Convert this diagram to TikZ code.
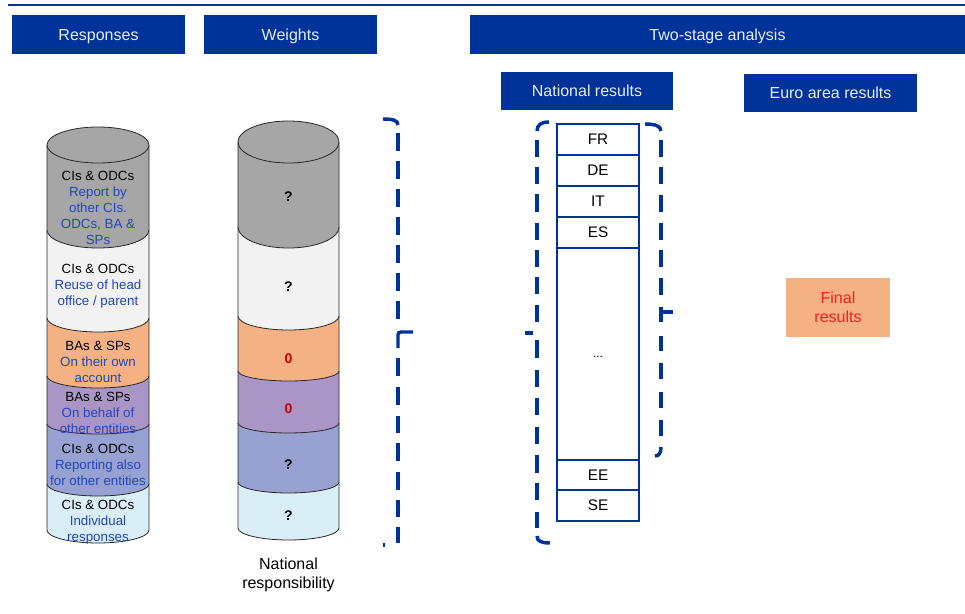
\documentclass[tikz,border=0pt]{standalone}
\usepackage{fontspec}
\setmainfont{Liberation Sans}
\definecolor{ecb}{RGB}{0,51,153}
\definecolor{hdrtxt}{RGB}{230,236,248}
\definecolor{cgray}{RGB}{166,166,166}
\definecolor{cwhite}{RGB}{242,242,242}
\definecolor{corange}{RGB}{244,177,131}
\definecolor{cpurple}{RGB}{170,150,198}
\definecolor{cblue}{RGB}{151,162,210}
\definecolor{clight}{RGB}{218,238,248}
\definecolor{cylline}{RGB}{40,40,40}
\definecolor{txtblue}{RGB}{35,70,185}
\definecolor{zred}{RGB}{200,0,0}
\definecolor{fred}{RGB}{250,30,30}
\newcommand\bluetx[1]{\textcolor{txtblue}{#1}}
\begin{document}
\begin{tikzpicture}[x=0.75pt,y=-0.75pt,
  hdr/.style={fill=ecb, text=hdrtxt, inner sep=0pt, font=\fontsize{12}{14}\selectfont, minimum width=129.75pt, minimum height=29.25pt, text height=8.6pt, text depth=0pt},
  nbox/.style={draw=ecb, line width=1.2pt, fill=white, minimum width=61.5pt, inner sep=0pt, font=\fontsize{11.5}{13}\selectfont},
  cyl/.style={draw=cylline, line width=0.6pt},
  ctext/.style={align=center, font=\fontsize{10}{12}\selectfont, inner sep=0pt},
  wq/.style={font=\fontsize{10.5}{12}\selectfont\bfseries, inner sep=0pt},
  brsolid/.style={draw=ecb, line width=2.6pt}
]
\useasboundingbox (0,0) rectangle (965,614);
% top rule
\coordinate (ruleL) at (8,5);
\coordinate (ruleR) at (965,5);
\draw[ecb, line width=1.5pt] (ruleL) -- (ruleR);
% headers
\node[hdr] (hresp) at (98.5,34.5) {Responses};
\node[hdr] (hweig) at (290.5,34.5) {Weights};
\node[hdr, minimum width=371.25pt] (htwo) at (717.5,34.5) {Two-stage analysis};
\node[hdr, minimum width=129pt, minimum height=28.5pt] (hnat) at (587,91) {National results};
\node[hdr, minimum height=28.5pt] (heuro) at (830.5,93) {Euro area results};
% left cylinder
\foreach \yt/\yb/\s/\c in {484/530/13/clight, 424/484/12/cblue, 376/424/10/cpurple, 318/376/12/corange, 230/318/14/cwhite, 145/230/18/cgray}{
  \filldraw[cyl, fill=\c] (47,\yt) -- (47,\yb) arc[start angle=180, end angle=0, x radius=51, y radius=\s] -- (149,\yt);
}
\filldraw[cyl, fill=cgray] (98,145) ellipse[x radius=51, y radius=18];
\node[ctext] (l1) at (98,208) {CIs \& ODCs\\\bluetx{Report by}\\\bluetx{other CIs.}\\\bluetx{ODCs, BA \&}\\\bluetx{SPs}};
\node[ctext] (l2) at (98,286) {CIs \& ODCs\\\bluetx{Reuse of head}\\\bluetx{office / parent}};
\node[ctext] (l3) at (98,361.5) {BAs \& SPs\\\bluetx{On their own}\\\bluetx{account}};
\node[ctext] (l4) at (98,413) {BAs \& SPs\\\bluetx{On behalf of}\\\bluetx{other entities}};
\node[ctext] (l5) at (98,465) {CIs \& ODCs\\\bluetx{Reporting also}\\\bluetx{for other entities}};
\node[ctext] (l6) at (98,522) {CIs \& ODCs\\\bluetx{Individual}\\\bluetx{responses}};
% middle cylinder
\foreach \yt/\yb/\s/\c in {482/528/12/clight, 423/482/11/cblue, 371/423/10/cpurple, 316/371/10/corange, 227/316/14/cwhite, 142/227/21/cgray}{
  \filldraw[cyl, fill=\c] (238,\yt) -- (238,\yb) arc[start angle=180, end angle=0, x radius=50.5, y radius=\s] -- (339,\yt);
}
\filldraw[cyl, fill=cgray] (288.5,142) ellipse[x radius=50.5, y radius=21];
\node[wq] (w1) at (288.5,197) {?};
\node[wq] (w2) at (288.5,287) {?};
\node[wq, text=zred] (w3) at (288.5,359) {0};
\node[wq, text=zred] (w4) at (288.5,409) {0};
\node[wq] (w5) at (288.5,465) {?};
\node[wq] (w6) at (288.5,516) {?};
\node[align=center, inner sep=0pt, font=\fontsize{12}{14.25}\selectfont] (natresp) at (288.5,574.5) {National\\responsibility};
% national results column
\node[nbox, minimum height=23.25pt] (fr) at (598,139.5) {FR};
\node[nbox, minimum height=23.25pt] (de) at (598,170.5) {DE};
\node[nbox, minimum height=23.25pt] (it) at (598,201.5) {IT};
\node[nbox, minimum height=23.25pt] (es) at (598,232.5) {ES};
\node[nbox, minimum height=159pt] (dots) at (598,354) {};
\node[inner sep=0pt, font=\fontsize{9}{10}\selectfont] (dotstxt) at (598,357) {...};
\node[nbox, minimum height=22.5pt] (ee) at (598,475) {EE};
\node[nbox, minimum height=23.25pt] (se) at (598,505.5) {SE};
% brace 1 (points right)
\coordinate (b1a) at (383,119);
\coordinate (b1t) at (413,332);
\coordinate (b1b) at (383,545);
\draw[brsolid] (b1a) .. controls (392,119) and (398,120) .. (398,125);
\foreach \a/\b in {133/151, 161/179, 189/207, 217/235, 245/263, 273/291, 301/319, 358/376, 387/405, 416/433, 443/461, 472/490, 500/517, 527/543}
  \draw[brsolid] (398,\a) -- (398,\b);
\draw[brsolid] (b1t) -- (401,332) .. controls (399,332) and (398,333) .. (398,335) -- (398,348);
\draw[brsolid] (b1b) -- (385,545);
% brace 2 (points left)
\coordinate (b2a) at (549,122);
\coordinate (b2t) at (525,333);
\coordinate (b2b) at (550,543);
\draw[brsolid] (b2a) .. controls (541,122) and (537,125) .. (537,131);
\foreach \a/\b in {140/157, 167/184, 194/212, 223/240, 250/267, 277/294, 305/322, 340/358, 370/387, 398/415, 427/444, 455/473, 483/500, 512/528}
  \draw[brsolid] (537,\a) -- (537,\b);
\draw[brsolid] (b2t) -- (533,333);
\draw[brsolid] (537,536) .. controls (537,541) and (541,543) .. (b2b);
% brace 3 (points right)
\coordinate (b3a) at (645,124);
\coordinate (b3t) at (673,312);
\coordinate (b3b) at (655,456);
\draw[brsolid] (b3a) .. controls (655,124) and (661,126) .. (661,131);
\foreach \a/\b in {140/157, 167/184, 195/212, 223/240, 250/267, 278/295, 336/351, 363/379, 392/408, 420/436}
  \draw[brsolid] (661,\a) -- (661,\b);
\draw[brsolid] (661,307) -- (661,322);
\draw[brsolid] (b3t) -- (661,312);
\draw[brsolid] (661,447) .. controls (661,453) and (659,456) .. (b3b);
% final results
\node[fill=corange, minimum width=78pt, minimum height=44.25pt, inner sep=0pt, text=fred, align=center, font=\fontsize{12}{14.25}\selectfont] (final) at (838,307.5) {Final\\results};
\end{tikzpicture}
\end{document}
